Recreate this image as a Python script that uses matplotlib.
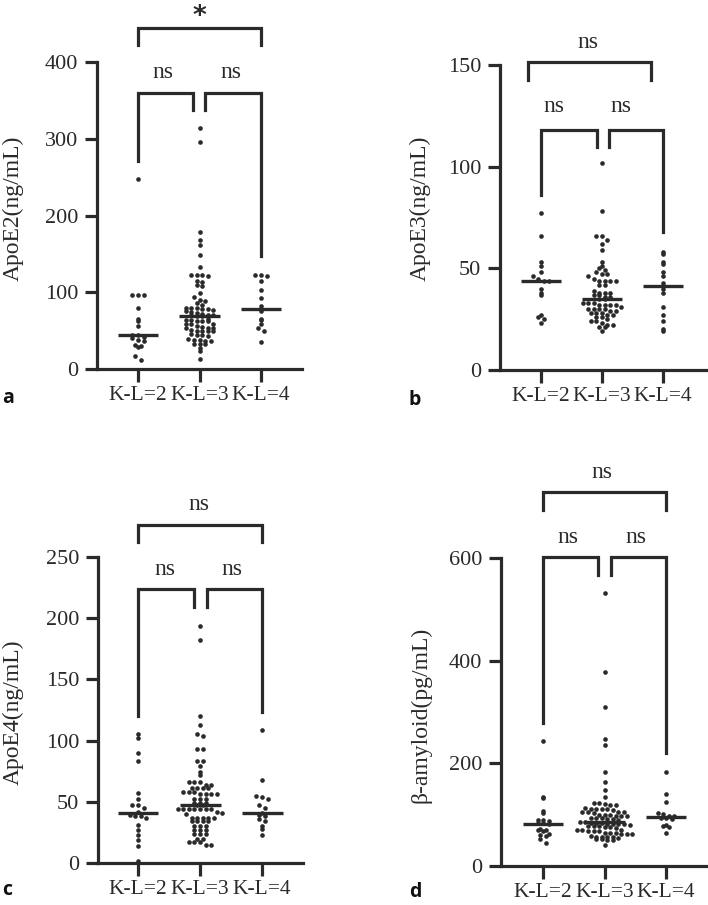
import matplotlib.pyplot as plt
import numpy as np

# categories
groups = ['K-L=2', 'K-L=3', 'K-L=4']

# panel a: ApoE2 (ng/mL)
apoe2_kl2 = [248, 97, 96, 97, 80, 65, 62, 56, 44, 44, 42, 40, 38, 36, 31, 30, 29, 17, 12]
apoe2_kl3 = [314, 296, 178, 168, 161, 148, 133, 123, 123, 122, 121, 115, 114, 109, 108,
             99, 94, 90, 89, 86, 83, 80, 79, 79, 78, 78, 77, 76, 74, 73, 72, 71, 71, 70,
             69, 69,
             65, 64, 64, 63, 63, 62, 59, 58, 58, 56, 55, 54, 54, 53, 51, 50, 50, 49, 49,
             45, 44, 44, 43, 39, 38, 38, 37, 36, 33, 32, 32, 28, 23, 13]
apoe2_kl4 = [123, 122, 121, 115, 103, 92, 82, 75, 65, 64, 58, 53, 49, 35]

# panel b: ApoE3 (ng/mL)
apoe3_kl2 = [77, 66, 53, 51, 48, 46, 45, 44, 44, 40, 38, 37, 27, 26, 25, 23]
apoe3_kl3 = [102, 78, 66, 66, 64, 62, 59, 53, 51, 50, 49, 48, 47, 47, 46, 45, 44, 44, 44, 44,
             42, 42, 39, 38, 38, 38, 37, 37, 36, 36,
             35, 35,
             33, 33, 33, 32, 32, 32, 32, 31, 30, 30, 30, 30, 29, 29, 28, 28, 28, 27, 27,
             26, 26, 25, 24, 24, 23, 22, 22, 21, 21, 19]
apoe3_kl4 = [58, 57, 53, 52, 48, 46, 43, 40, 38, 31, 27, 24, 20, 19]

# panel c: ApoE4 (ng/mL)
apoe4_kl2 = [105, 102, 90, 83, 57, 52, 47, 47, 45, 42, 39, 38, 38, 37, 31, 27, 23, 19, 14, 2]
apoe4_kl3 = [194, 182, 120, 113, 105, 104, 93, 93, 83, 83, 79, 74, 72, 66, 66, 66, 64, 64,
             61, 61, 61, 61, 58, 58, 58, 56, 56, 56, 56, 52, 52, 52, 49, 49, 49,
             47, 47,
             44, 44, 44, 44, 44, 44, 44, 42, 41, 40, 37, 37, 37, 37, 37, 34, 34, 34, 34,
             30, 30, 30, 27, 27, 27, 24, 24, 24, 20, 20, 17, 17, 17, 15, 15]
apoe4_kl4 = [109, 68, 55, 54, 52, 47, 45, 41, 39, 38, 36, 34, 30, 28, 23]

# panel d: beta-amyloid (pg/mL)
abeta_kl2 = [243, 134, 132, 108, 103, 90, 89, 88, 84, 83, 82, 72, 71, 70, 68, 62, 60, 58, 52, 44]
abeta_kl3 = [531, 377, 310, 247, 236, 184, 164, 149, 135, 123, 123, 120, 119, 118,
             113, 112, 112, 111, 111, 110, 106, 106, 105, 105, 104,
             100, 99, 99, 98, 98, 97, 94, 93, 93, 92, 91, 89,
             86, 86,
             84, 83, 83, 82, 82, 81, 81, 80, 78, 77, 77, 76, 76, 75,
             71, 70, 70, 69, 69, 68, 65, 64, 64, 63, 63, 62,
             58, 57, 57, 56, 56, 55, 52, 52, 51, 51, 41]
abeta_kl4 = [184, 140, 125, 103, 102, 98, 97, 94, 93, 92, 80, 78, 76, 65]

INK = '#2a2a2a'
SERIF = 'Liberation Serif'
W, H = 708, 905

plt.rcParams['font.family'] = SERIF


def swarm_offsets(values, bin_size, step):
    '''spread points of the same height side by side, like a scatter dot plot'''
    values = np.asarray(values, dtype=float)
    bins = np.floor(values / bin_size).astype(int)
    offs = np.zeros(len(values))
    for b in np.unique(bins):
        idx = np.where(bins == b)[0]
        n = len(idx)
        offs[idx] = (np.arange(n) - (n - 1) / 2) * step
    return offs


def bracket(ax, x1, x2, top, y1, y2):
    ax.plot([x1, x1, x2, x2], [y1, top, top, y2], color=INK, lw=2.3,
            solid_joinstyle='miter', clip_on=False)


panels = [
    dict(data=[apoe2_kl2, apoe2_kl3, apoe2_kl4], rect=(97, 62, 302, 369), ylim=400,
         ticks=[0, 100, 200, 300, 400], xlim=(-0.667, 2.667), ylabel='ApoE2(ng/mL)',
         lab=(13, 208), letter='a', let_xy=(2, 403), bin=5.9,
         top=(0, 2, 444, 422, 422, '*', 1.0, 449),
         pairs=[(0, 0.89, 360, 271, 337, 0.41, 379), (1.09, 2, 360, 337, 147, 1.51, 379)]),
    dict(data=[apoe3_kl2, apoe3_kl3, apoe3_kl4], rect=(500, 65, 708, 370), ylim=150,
         ticks=[0, 50, 100, 150], xlim=(-0.672, 2.74), ylabel='ApoE3(ng/mL)',
         lab=(420, 208), letter='b', let_xy=(409, 405), bin=2.2,
         top=(-0.21, 1.80, 151.5, 142.6, 142.6, 'ns', 0.77, 158.4),
         pairs=[(0, 0.92, 118, 86, 109.7, 0.21, 126.9), (1.11, 2, 118, 109.7, 68, 1.31, 126.9)]),
    dict(data=[apoe4_kl2, apoe4_kl3, apoe4_kl4], rect=(98, 557, 303, 863), ylim=250,
         ticks=[0, 50, 100, 150, 200, 250], xlim=(-0.645, 2.66), ylabel='ApoE4(ng/mL)',
         lab=(13, 712), letter='c', let_xy=(2, 895), bin=3.7,
         top=(0, 2, 276, 262, 262, 'ns', 0.98, 288),
         pairs=[(0, 0.90, 224, 120, 209, 0.44, 235), (1.11, 2, 224, 209, 123, 1.52, 235)]),
    dict(data=[abeta_kl2, abeta_kl3, abeta_kl4], rect=(501, 558, 708, 866), ylim=600,
         ticks=[0, 200, 400, 600], xlim=(-0.683, 2.68), ylabel='β-amyloid(pg/mL)',
         lab=(421, 715), letter='d', let_xy=(409, 897), bin=8.8,
         top=(0, 2, 729, 693, 693, 'ns', 0.95, 756),
         pairs=[(0, 0.89, 602, 279, 567, 0.41, 629), (1.11, 2, 602, 567, 220, 1.51, 629)]),
]

fig = plt.figure(figsize=(W / 100, H / 100), dpi=100)

for p in panels:
    l, t, r, b = p['rect']
    ax = fig.add_axes([l / W, 1 - b / H, (r - l) / W, (b - t) / H])
    ax.set_xlim(*p['xlim'])
    ax.set_ylim(0, p['ylim'])

    for i, vals in enumerate(p['data']):
        offs = swarm_offsets(vals, p['bin'], 0.09)
        ax.scatter(i + offs, vals, s=11, color=INK, lw=0, zorder=3, clip_on=False)
        med = np.median(vals)
        ax.plot([i - 0.33, i + 0.33], [med, med], color=INK, lw=2.4,
                solid_capstyle='butt', zorder=4)

    x1, x2, top, y1, y2, txt, tx, ty = p['top']
    bracket(ax, x1, x2, top, y1, y2)
    if txt == '*':
        ax.text(tx, ty, txt, ha='center', va='baseline', fontsize=19,
                fontweight='bold', family='DejaVu Sans', color=INK, clip_on=False)
    else:
        ax.text(tx, ty, txt, ha='center', va='baseline', fontsize=17, color=INK, clip_on=False)
    for x1, x2, top, y1, y2, tx, ty in p['pairs']:
        bracket(ax, x1, x2, top, y1, y2)
        ax.text(tx, ty, 'ns', ha='center', va='baseline', fontsize=17, color=INK, clip_on=False)

    for side in ['top', 'right']:
        ax.spines[side].set_visible(False)
    for side in ['left', 'bottom']:
        ax.spines[side].set_linewidth(2.3)
        ax.spines[side].set_color(INK)
    ax.set_yticks(p['ticks'])
    ax.set_xticks(range(len(groups)))
    ax.set_xticklabels(groups)
    ax.tick_params(axis='y', length=8.6, width=2.3, color=INK, labelsize=16,
                   labelcolor=INK, pad=5)
    ax.tick_params(axis='x', length=9.4, width=2.3, color=INK, labelsize=15.5,
                   labelcolor=INK, pad=3)

    fig.text(p['lab'][0] / W, 1 - p['lab'][1] / H, p['ylabel'], rotation=90,
             ha='center', va='center', fontsize=17, color=INK)
    fig.text(p['let_xy'][0] / W, 1 - p['let_xy'][1] / H, p['letter'], ha='left',
             va='baseline', fontsize=14, fontweight='bold', family='Open Sans', color='#111')

fig.savefig('out.png', dpi=100)
